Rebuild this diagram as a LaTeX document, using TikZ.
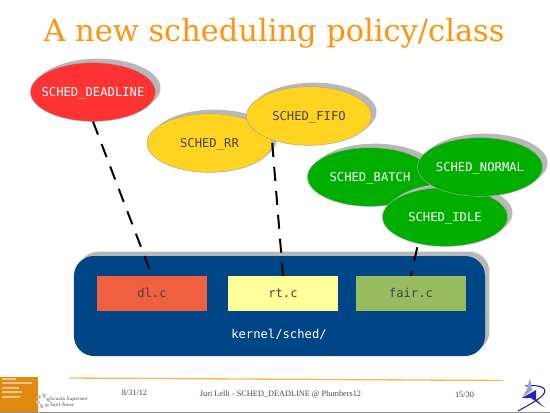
\documentclass[tikz,border=0pt]{standalone}
\usepackage{fontspec}
\usepackage{xcolor}
\usetikzlibrary{shapes.geometric, shadows}
\newfontfamily\titlefont{DejaVu Serif}
\newfontfamily\footfont{Liberation Serif}
\newfontfamily\labelfont{DejaVu Sans Mono}
\definecolor{sched-red}{HTML}{FF3333}
\definecolor{sched-yellow}{HTML}{FFD320}
\definecolor{sched-green}{HTML}{00AE00}
\definecolor{sched-blue}{HTML}{004586}
\definecolor{sched-orange}{HTML}{FF950E}
\definecolor{sched-shadow}{HTML}{B8B8B8}
\definecolor{sched-dl}{HTML}{EE6040}
\definecolor{sched-rt}{HTML}{FFFF99}
\definecolor{sched-fair}{HTML}{99BB5F}
\definecolor{sched-logo}{HTML}{E08A10}
\definecolor{sched-star}{HTML}{2A20C0}
\definecolor{sched-text}{HTML}{444444}
\begin{document}
\begin{tikzpicture}[
    x=0.03cm, y=-0.03cm,
    policy/.style={ellipse, draw=black!35, inner xsep=-0.3cm, inner ysep=0pt, minimum width=3.75cm, minimum height=1.76cm,
               text height=0.73em, text depth=0pt,
               font=\labelfont\fontsize{10.4pt}{12pt}\selectfont,
               drop shadow={shadow xshift=0.15cm, shadow yshift=0.12cm, fill=sched-shadow, opacity=1}},
    source/.style={minimum width=3.3cm, minimum height=1.05cm, inner sep=0pt,
               text height=0.73em, text depth=0pt,
               text=sched-text, font=\labelfont\fontsize{10.4pt}{12pt}\selectfont},
    link/.style={line width=0.06cm, dash pattern=on 0.42cm off 0.3cm},
    foot/.style={text=sched-text, font=\footfont\fontsize{7.05pt}{9pt}\selectfont, inner sep=0pt},
]
    \useasboundingbox[fill=white] (0,0) rectangle (550,413);
    \node[text=sched-orange, font=\titlefont\fontsize{26pt}{30pt}\selectfont, inner sep=0pt] (title) at (274,33.5) {A new scheduling policy/class};

    \node[fill=sched-blue, rounded corners=0.6cm, minimum width=12.33cm, minimum height=3cm,
          drop shadow={shadow xshift=0.13cm, shadow yshift=0.13cm, fill=sched-shadow, opacity=1}] (kernel) at (279.5,306) {};
    \node[source, fill=sched-dl] (dl) at (152,293.5) {dl.c};
    \node[source, fill=sched-rt] (rt) at (283,293.5) {rt.c};
    \node[source, fill=sched-fair] (fair) at (411,293.5) {fair.c};
    \node[text=white, font=\labelfont\fontsize{10.4pt}{12pt}\selectfont] (path) at (279,334) {kernel/sched/};

    \node[policy, fill=sched-red, text=white] (deadline) at (93,92) {SCHED\_DEADLINE};
    \node[policy, fill=sched-yellow, text=sched-text] (rr) at (209.5,143) {SCHED\_RR};
    \node[policy, fill=sched-yellow, text=sched-text] (fifo) at (309,116) {SCHED\_FIFO};
    \node[policy, fill=sched-green, text=white] (batch) at (370,177) {SCHED\_BATCH};

    \draw[link] (deadline.south) -- (dl.north);
    \draw[link] (rr.east) -- (rt.north);
    \draw[link] (batch.east) -- (fair.north);

    \node[policy, fill=sched-green, text=white] (idle) at (445,217) {SCHED\_IDLE};
    \node[policy, fill=sched-green, text=white] (normal) at (480,167) {SCHED\_NORMAL};

    \draw[sched-orange!70, line width=0.04cm] (70,378) -- (503,380.5);
    \node[foot] (date) at (134.5,392.5) {8/31/12};
    \node[foot] (event) at (280.5,394) {Juri Lelli - SCHED\_DEADLINE @ Plumbers12};
    \node[foot] (page) at (464.5,395) {15/30};

    \fill[sched-logo] (0,377) rectangle (38,412);
    \foreach \ly/\lw in {379/14, 383/30, 388/17, 392/20, 397/18}
        \draw[white!50!sched-logo, line width=0.05cm] (2,\ly) -- ++(\lw,0);
    \draw[black!25, line width=0.1cm, dotted] (43,401) circle (0.17cm);
    \node[inner sep=0pt, text=sched-text, align=left, font=\sffamily\fontsize{4.3pt}{5.2pt}\selectfont, anchor=west] (school) at (50,402) {Scuola Superiore\\Sant'Anna};

    \draw[sched-star!70!black, line width=0.03cm] (525,386) .. controls (545,384) and (548,390) .. (542,396) .. controls (535,402) and (525,407) .. (518,411);
    \fill[sched-star!45!white] (530,378) -- (532,390) -- (522,398) -- (527,389) -- cycle;
    \fill[sched-star] (522,398) -- (536,390) -- (536,399) -- (545,408) -- (531,398) -- cycle;
    \draw[black!45, line width=0.06cm] (0,412.5) -- (550,412.5);
\end{tikzpicture}
\end{document}
